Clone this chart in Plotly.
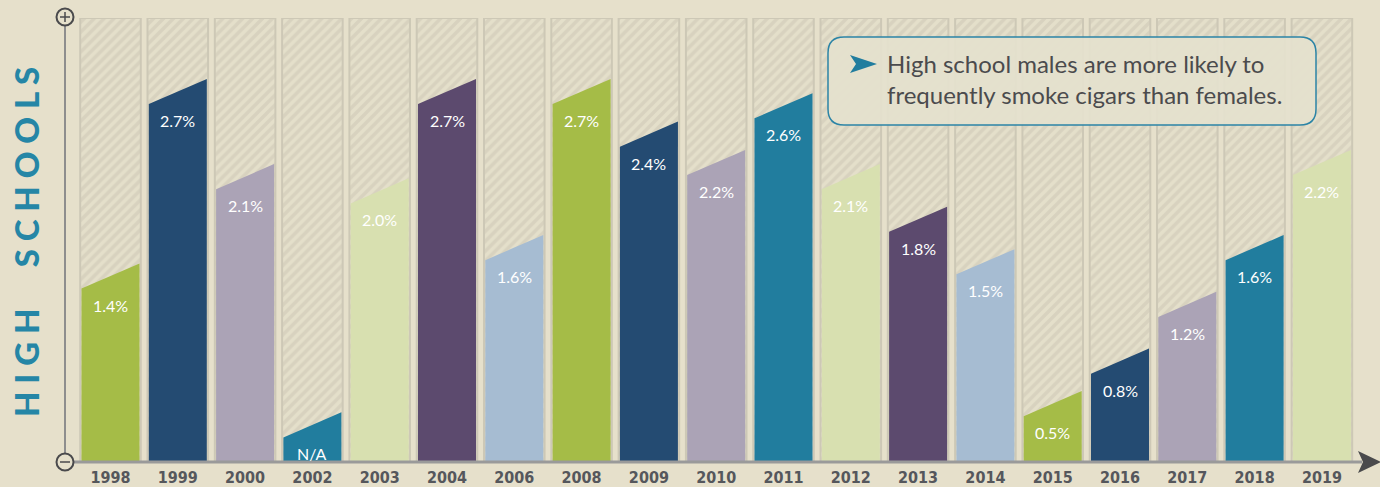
import plotly.graph_objects as go

# ---------------- data ----------------
years = ["1998", "1999", "2000", "2002", "2003", "2004", "2006", "2008", "2009", "2010",
         "2011", "2012", "2013", "2014", "2015", "2016", "2017", "2018", "2019"]
values = [1.4, 2.7, 2.1, None, 2.0, 2.7, 1.6, 2.7, 2.4, 2.2,
          2.6, 2.1, 1.8, 1.5, 0.5, 0.8, 1.2, 1.6, 2.2]
na_bar_value = 0.35  # placeholder height of the N/A bar (2002)
colors = ["#a5bc47", "#244b72", "#aba3b6", "#217d9e", "#d8e0b0", "#5c4a6e", "#a6bcd2",
          "#a5bc47", "#244b72", "#aba3b6", "#217d9e", "#d8e0b0", "#5c4a6e", "#a6bcd2",
          "#a5bc47", "#244b72", "#aba3b6", "#217d9e", "#d8e0b0"]
side_title = "HIGH SCHOOLS"
note_text = "High school males are more likely to<br>frequently smoke cigars than females."

# ---------------- layout constants ----------------
W, H = 1380, 487
ML, MR, MT, MB = 65, 20, 18, 25
PW, PH = W - ML - MR, H - MT - MB
Y_MAX = 3.13
X_RANGE = [-0.676, 18.566]
BAR_W = 0.862
COL_W = 0.90
SLANT = 0.177
BG = "#e6e0cb"


def px_x(p):
    return (p - ML) / PW


def px_y(p):
    return (H - MB - p) / PH


fig = go.Figure()

# hatched background columns
fig.add_trace(go.Bar(
    x=list(range(len(years))), y=[Y_MAX] * len(years), width=COL_W,
    marker=dict(color="#e4dfca", line=dict(color="#cdc8b6", width=2),
                pattern=dict(shape="/", fgcolor="#cbc6b4", bgcolor="#e4dfca",
                             size=7, solidity=0.5, fillmode="overlay")),
    hoverinfo="skip", showlegend=False))

# slanted-top bars
for i, (yr, v, c) in enumerate(zip(years, values, colors)):
    h = v if v is not None else na_bar_value
    xl, xr = i - BAR_W / 2, i + BAR_W / 2
    fig.add_trace(go.Scatter(
        x=[xl, xl, xr, xr, xl], y=[0, h - SLANT, h, 0, 0],
        mode="lines", fill="toself", fillcolor=c, line=dict(width=0, color=c),
        hoverinfo="skip", showlegend=False))
    label = f"{v:.1f}%" if v is not None else "N/A"
    fig.add_annotation(x=i, y=h - SLANT, text=label, showarrow=False,
                       xref="x", yref="y", yanchor="top", yshift=-5,
                       font=dict(family="Lato, Open Sans, sans-serif", size=16, color="white"))

shapes = []
# y axis line
shapes.append(dict(type="line", xref="paper", yref="paper", x0=0, x1=0,
                   y0=px_y(26), y1=px_y(454), line=dict(color="#8e8e8e", width=2), layer="above"))
# x axis line
shapes.append(dict(type="line", xref="paper", yref="paper", x0=px_x(72), x1=px_x(1362),
                   y0=px_y(462), y1=px_y(462), line=dict(color="#9a9a9a", width=3), layer="above"))
# arrowhead
ax0, ax1, ay0, ay1, ayc = px_x(1358), px_x(1381), px_y(451), px_y(473), px_y(462)
shapes.append(dict(type="path", xref="paper", yref="paper",
                   path=f"M {ax0},{ay0} L {ax1},{ayc} L {ax0},{ay1} L {px_x(1363)},{ayc} Z",
                   fillcolor="#4a4a4c", line=dict(width=0), layer="above"))
# + / - circles
for cy, sym in [(17, "+"), (462, "-")]:
    shapes.append(dict(type="circle", xref="paper", yref="paper",
                       xsizemode="pixel", ysizemode="pixel", xanchor=0, yanchor=px_y(cy),
                       x0=-8.5, x1=8.5, y0=-8.5, y1=8.5,
                       fillcolor=BG, line=dict(color="#4a4a4c", width=2), layer="above"))
    shapes.append(dict(type="line", xref="paper", yref="paper",
                       xsizemode="pixel", ysizemode="pixel", xanchor=0, yanchor=px_y(cy),
                       x0=-5, x1=5, y0=0, y1=0, line=dict(color="#4a4a4c", width=1.5), layer="above"))
    if sym == "+":
        shapes.append(dict(type="line", xref="paper", yref="paper",
                           xsizemode="pixel", ysizemode="pixel", xanchor=0, yanchor=px_y(cy),
                           x0=0, x1=0, y0=-5, y1=5, line=dict(color="#4a4a4c", width=1.5), layer="above"))

# note box (rounded)
bx0, bx1, by0, by1, r = 828, 1316, 37, 125, 16
p = (f"M {px_x(bx0 + r)},{px_y(by0)} L {px_x(bx1 - r)},{px_y(by0)} "
     f"Q {px_x(bx1)},{px_y(by0)} {px_x(bx1)},{px_y(by0 + r)} "
     f"L {px_x(bx1)},{px_y(by1 - r)} Q {px_x(bx1)},{px_y(by1)} {px_x(bx1 - r)},{px_y(by1)} "
     f"L {px_x(bx0 + r)},{px_y(by1)} Q {px_x(bx0)},{px_y(by1)} {px_x(bx0)},{px_y(by1 - r)} "
     f"L {px_x(bx0)},{px_y(by0 + r)} Q {px_x(bx0)},{px_y(by0)} {px_x(bx0 + r)},{px_y(by0)} Z")
shapes.append(dict(type="path", xref="paper", yref="paper", path=p,
                   fillcolor="rgba(228,225,206,0.93)", line=dict(color="#2b84a6", width=1.5), layer="above"))
# arrow icon in box
shapes.append(dict(type="path", xref="paper", yref="paper",
                   path=(f"M {px_x(850)},{px_y(55)} L {px_x(877)},{px_y(64)} "
                         f"L {px_x(850)},{px_y(73)} L {px_x(856)},{px_y(64)} Z"),
                   fillcolor="#217d9e", line=dict(width=0), layer="above"))

fig.add_annotation(xref="paper", yref="paper", x=px_x(885), y=px_y(47),
                   xanchor="left", yanchor="top", align="left", showarrow=False,
                   text=note_text,
                   font=dict(family="Lato, Open Sans, sans-serif", size=24, color="#4b4b4d"))

# side title
spaced = " ".join(list("HIGH")) + "\u2003\u2002" + " ".join(list("SCHOOLS"))
fig.add_annotation(xref="paper", yref="paper", x=px_x(26), y=px_y(242),
                   xanchor="center", yanchor="middle", textangle=-90, showarrow=False,
                   text=spaced,
                   font=dict(family="Lato, sans-serif", size=33, color="#2586a6", weight=900))

fig.update_layout(
    width=W, height=H,
    margin=dict(l=ML, r=MR, t=MT, b=MB, autoexpand=False),
    paper_bgcolor=BG, plot_bgcolor=BG,
    shapes=shapes,
    xaxis=dict(range=X_RANGE, tickmode="array", tickvals=list(range(len(years))),
               ticktext=years, showgrid=False, zeroline=False, showline=False, ticks="",
               ticklabelstandoff=4, automargin=False,
               tickfont=dict(family="DejaVu Sans Condensed, sans-serif",
                             size=16, color="#55575c", weight="bold"),
               fixedrange=True),
    yaxis=dict(range=[0, Y_MAX], showgrid=False, zeroline=False, showline=False,
               showticklabels=False, ticks="", fixedrange=True, automargin=False),
    showlegend=False,
)

fig.write_html("out.html", config={"displayModeBar": False},
               post_script="document.body.style.margin='0';document.body.style.background='" + BG + "';")
